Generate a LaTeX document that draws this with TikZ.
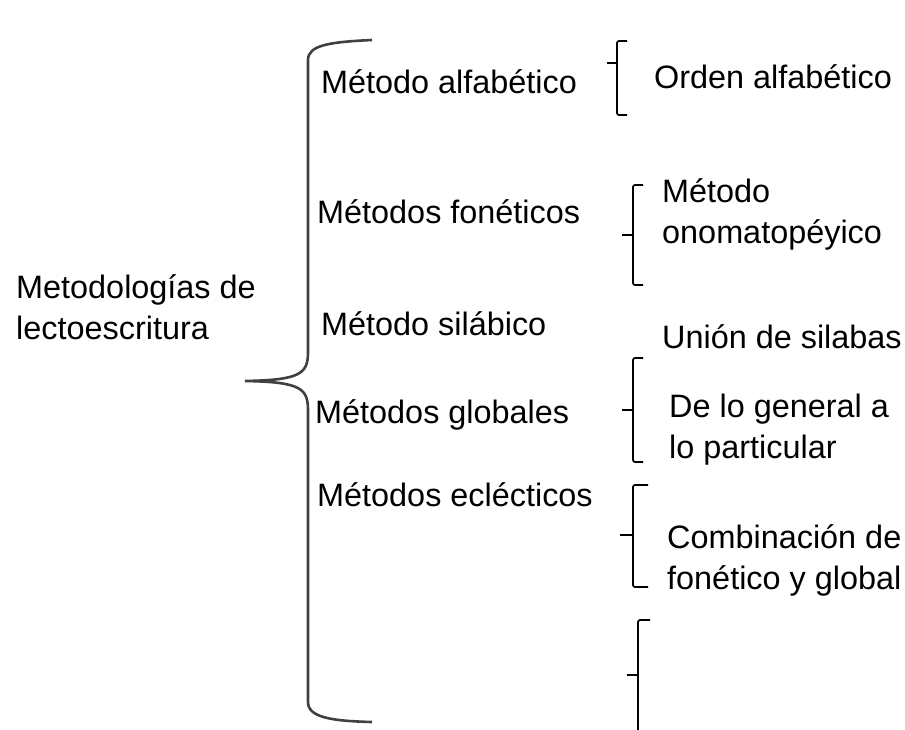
\documentclass[tikz,border=0pt]{standalone}
\usepackage{fontspec}
\setmainfont{Liberation Sans}
\usetikzlibrary{positioning}

\begin{document}
\begin{tikzpicture}[x=1pt,y=-1pt,
    lbl/.style={anchor=west,inner sep=0pt,align=left,font=\fontsize{32.4}{41}\selectfont},
    bigbrace/.style={draw=black!75,line width=2.6pt},
    smallbrace/.style={draw=black,line width=1.7pt,rounded corners=2pt}]
  \useasboundingbox (0,0) rectangle (905,730);

  \node[lbl] (root) at (16,307) {Metodologías de\\lectoescritura};

  %% metodos
  \node[lbl] (alfab) at (321,82) {Método alfabético};
  \node[lbl] (fonet) at (317,212) {Métodos fonéticos};
  \node[lbl] (silab) at (321,324) {Método silábico};
  \node[lbl] (glob) at (315,415) {Métodos globales};
  \node[lbl] (eclec) at (317,495) {Métodos eclécticos};

  %% descripciones
  \node[lbl] (orden) at (654,77) {Orden alfabético};
  \node[lbl] (onoma) at (662,214) {Método\\onomatopéyico};
  \node[lbl] (union) at (662,337) {Unión de silabas};
  \node[lbl] (gener) at (669,430) {De lo general a\\lo particular};
  \node[lbl] (combi) at (667,560) {Combinación de\\fonético y global};

  %% llave grande
  \draw[bigbrace] (372,40) .. controls (330,42) and (308,45) .. (308,60)
    -- (308,352) .. controls (308,374) and (300,380) .. (245,381)
    .. controls (300,382) and (308,388) .. (308,410)
    -- (308,702) .. controls (308,717) and (330,721) .. (372,722);

  %% llaves chicas
  \draw[smallbrace] (627,41) -- (617,41) -- (617,115) -- (627,115);
  \draw[smallbrace] (607,63) -- (617,63);
  \draw[smallbrace] (643,185) -- (633,185) -- (633,285) -- (643,285);
  \draw[smallbrace] (622,235) -- (633,235);
  \draw[smallbrace] (643,358) -- (633,358) -- (633,462) -- (643,462);
  \draw[smallbrace] (622,410) -- (633,410);
  \draw[smallbrace] (648,485) -- (633,485) -- (633,587) -- (648,587);
  \draw[smallbrace] (620,535) -- (633,535);
  \draw[smallbrace] (650,620) -- (638,620) -- (638,730);
  \draw[smallbrace] (627,675) -- (638,675);
\end{tikzpicture}
\end{document}
